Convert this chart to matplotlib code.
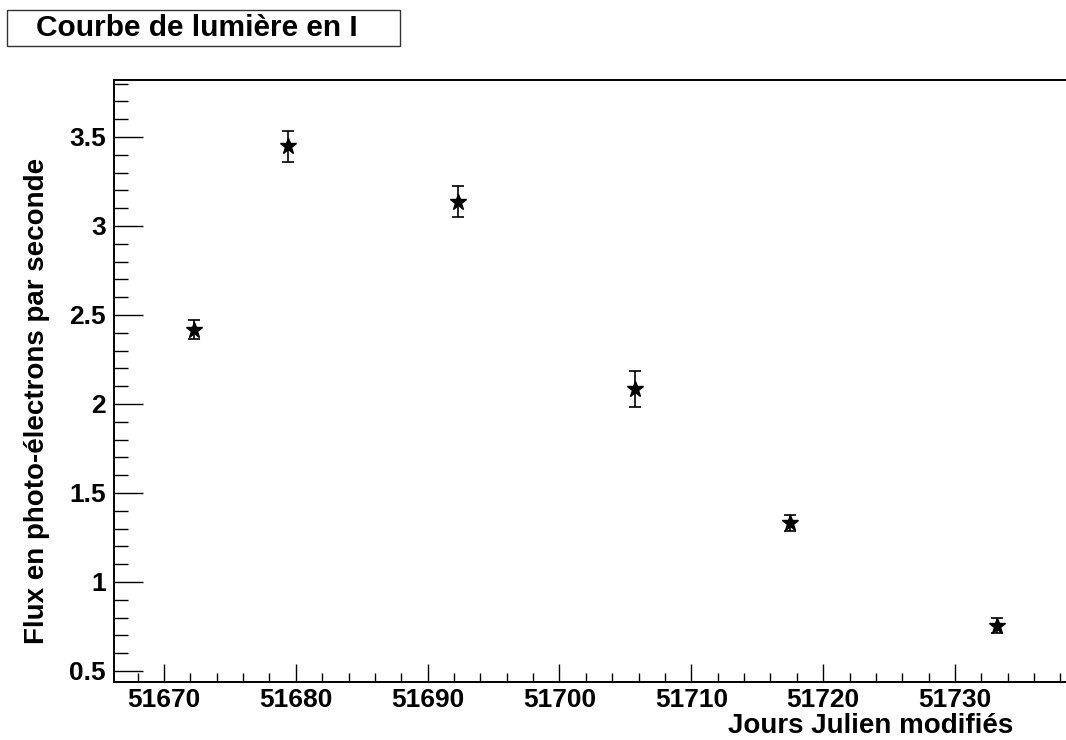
import numpy as np
import matplotlib
matplotlib.use("Agg")
import matplotlib.pyplot as plt
from matplotlib.patches import Rectangle
from matplotlib.ticker import MultipleLocator

plt.rcParams['font.family'] = ['Liberation Sans', 'DejaVu Sans']
plt.rcParams['font.weight'] = 'bold'

# data
mjd = [51672.3, 51679.4, 51692.3, 51705.7, 51717.5, 51733.2]
flux = [2.416, 3.449, 3.137, 2.084, 1.331, 0.755]
flux_err = [0.053, 0.087, 0.087, 0.100, 0.045, 0.040]

title = "Courbe de lumière en I"
xlabel = "Jours Julien modifiés"
ylabel = "Flux en photo-électrons par seconde"

W, H = 1066, 740
fig = plt.figure(figsize=(W / 100, H / 100), dpi=100)

# frame, in pixels of the reference picture
left, right, top, bottom = 114, 1066, 80, 682
ax = fig.add_axes([left / W, 1 - bottom / H, (right - left) / W, (bottom - top) / H])

ax.errorbar(mjd, flux, yerr=flux_err, fmt='*', color='black', ms=12,
            elinewidth=1.2, capsize=4.5, capthick=1.2)

ax.set_xlim(51666.21, 51738.42)
ax.set_ylim(0.438, 3.82)

ax.xaxis.set_major_locator(MultipleLocator(10))
ax.xaxis.set_minor_locator(MultipleLocator(2))
ax.yaxis.set_major_locator(MultipleLocator(0.5))
ax.yaxis.set_minor_locator(MultipleLocator(0.1))
ax.yaxis.set_major_formatter(plt.FuncFormatter(lambda v, p: f"{v:g}"))
ax.xaxis.set_major_formatter(plt.FuncFormatter(lambda v, p: f"{v:.0f}"))

ax.tick_params(axis='x', which='major', direction='in', length=13, width=1.0,
               labelsize=19, pad=4)
ax.tick_params(axis='x', which='minor', direction='in', length=6.5, width=1.0)
ax.tick_params(axis='y', which='major', direction='in', length=21, width=1.0,
               labelsize=19, pad=6)
ax.tick_params(axis='y', which='minor', direction='in', length=10, width=1.0)
ax.tick_params(top=False, right=False, which='both')

for s in ['left', 'bottom', 'top']:
    ax.spines[s].set_linewidth(1.4)
ax.spines['right'].set_visible(False)

fig.text(1013 / W, 1 - 733 / H, xlabel, ha='right', va='baseline',
         fontsize=20, fontweight='bold')
fig.text(37 / W, 1 - 401 / H, ylabel, rotation=90, ha='center', va='center',
         fontsize=20, fontweight='bold')

# title box, ROOT style
fig.patches.append(Rectangle((7 / W, 1 - 46 / H), 393 / W, 36 / H,
                             transform=fig.transFigure, facecolor='white',
                             edgecolor='#333333', linewidth=1.0))
fig.text(196.5 / W, 1 - 28 / H, title, ha='center', va='center',
         fontsize=21.5, fontweight='bold')

fig.savefig("out.png", dpi=100)
